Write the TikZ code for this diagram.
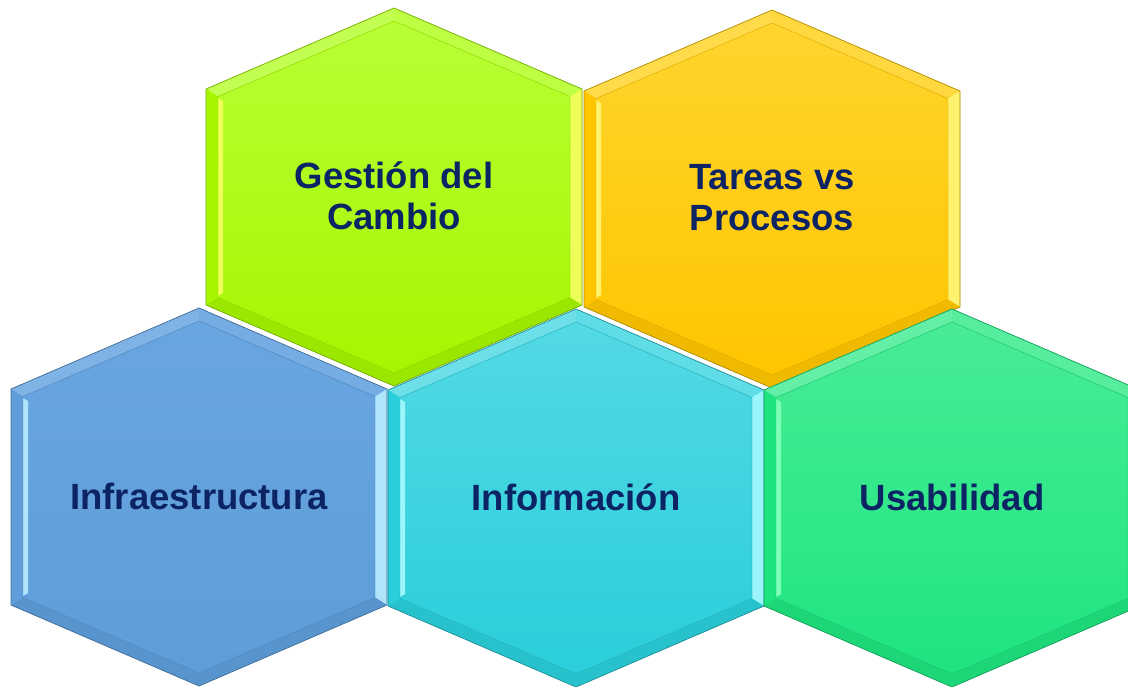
\documentclass[tikz,border=0pt]{standalone}
\usepackage{fontspec}
\setmainfont{Liberation Sans}
\definecolor{txtnavy}{RGB}{13,36,100}
\definecolor{gBase}{RGB}{166,246,0}
\definecolor{gTop}{RGB}{184,255,52}
\definecolor{gHl}{RGB}{238,255,90}
\definecolor{oBase}{RGB}{255,198,0}
\definecolor{oTop}{RGB}{255,212,45}
\definecolor{oHl}{RGB}{255,242,110}
\definecolor{bBase}{RGB}{94,157,218}
\definecolor{bTop}{RGB}{104,165,225}
\definecolor{bHl}{RGB}{175,228,252}
\definecolor{cBase}{RGB}{42,206,218}
\definecolor{cTop}{RGB}{82,217,228}
\definecolor{cHl}{RGB}{155,246,252}
\definecolor{mBase}{RGB}{30,228,128}
\definecolor{mTop}{RGB}{72,236,150}
\definecolor{mHl}{RGB}{125,255,185}
\tikzset{
  lbl/.style={text=txtnavy, font=\fontsize{36.5}{41}\selectfont\bfseries, align=center, inner sep=0pt},
}
\newcommand\hexcell[7]{%
\begin{scope}[shift={(#1,#2)}]
  \coordinate (T) at (0,-189);
  \coordinate (UR) at (188,-108);
  \coordinate (LR) at (188,108);
  \coordinate (B) at (0,189);
  \coordinate (LL) at (-188,108);
  \coordinate (UL) at (-188,-108);
  \coordinate (t) at (0,-176);
  \coordinate (ur) at (176,-100.5);
  \coordinate (lr) at (176,100.5);
  \coordinate (b) at (0,176);
  \coordinate (ll) at (-176,100.5);
  \coordinate (ul) at (-176,-100.5);
  \fill[#3] (T)--(UR)--(LR)--(B)--(LL)--(UL)--cycle;
  \fill[#4!85!white] (UL)--(T)--(t)--(ul)--cycle;
  \fill[#4!92!white] (T)--(UR)--(ur)--(t)--cycle;
  \fill[#5] (UR)--(LR)--(lr)--(ur)--cycle;
  \fill[#3!94!black] (LR)--(B)--(b)--(lr)--cycle;
  \fill[#3!94!black] (B)--(LL)--(ll)--(b)--cycle;
  \fill[#3] (LL)--(UL)--(ul)--(ll)--cycle;
  \shade[top color=#4, bottom color=#3] (t)--(ur)--(lr)--(b)--(ll)--(ul)--cycle;
  \fill[#5] (-176,-99)--(-171,-96)--(-171,96)--(-176,99)--cycle;
  \draw[#3!70!black, line width=0.7pt, line join=miter] (T)--(UR)--(LR)--(B)--(LL)--(UL)--cycle;
  \draw[#3!85!black, line width=0.4pt] (t)--(ur)--(lr)--(b)--(ll)--(ul)--cycle;
  \node[lbl] (#6) at (0,-1) {#7};
\end{scope}}
\begin{document}
\begin{tikzpicture}[x=1pt,y=-1pt]
\useasboundingbox (0,0) rectangle (1128,686);
\clip (0,0) rectangle (1128,686);
\hexcell{394}{197}{gBase}{gTop}{gHl}{gestion}{Gestión del\\Cambio}
\hexcell{772}{199}{oBase}{oTop}{oHl}{tareas}{Tareas vs\\Procesos}
\hexcell{199}{497}{bBase}{bTop}{bHl}{infra}{Infraestructura}
\hexcell{576}{498}{cBase}{cTop}{cHl}{info}{Información}
\hexcell{952}{498}{mBase}{mTop}{mHl}{usab}{Usabilidad}
\end{tikzpicture}
\end{document}
